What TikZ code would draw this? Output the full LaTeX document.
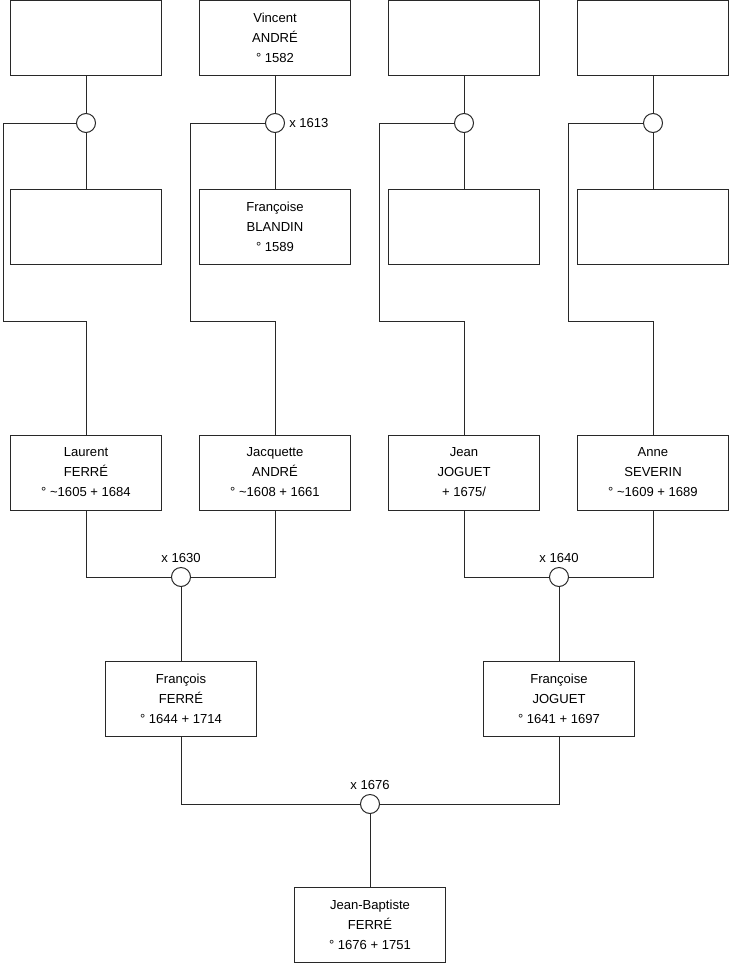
\documentclass[tikz,border=0pt]{standalone}
\usepackage{fontspec}
\setmainfont{Liberation Sans}
\usetikzlibrary{positioning}
\definecolor{linegray}{RGB}{40, 40, 40}

\begin{document}
\begin{tikzpicture}[x=0.75pt, y=-0.75pt,
    every node/.style={font=\fontsize{9.8}{15}\selectfont},
    person/.style={draw=linegray, line width=0.75pt, fill=white,
      minimum width=113.25pt, minimum height=56.25pt, align=center, inner sep=0pt},
    union/.style={circle, draw=linegray, line width=0.75pt, fill=white,
      minimum size=14.25pt, inner sep=0pt},
    wedding/.style={inner sep=1pt},
    link/.style={draw=linegray, line width=0.75pt}]
  \useasboundingbox (0,0) rectangle (740,975);

  %% GREAT-GRANDPARENTS
  \node[person] (p1) at (86,37.5) {};
  \node[person] (p2) at (275,37.5) {Vincent\\ANDRÉ\\° 1582};
  \node[person] (p3) at (464,37.5) {};
  \node[person] (p4) at (653,37.5) {};

  \node[union] (u1) at (86,123) {};
  \node[union] (u2) at (275,123) {};
  \node[union] (u3) at (464,123) {};
  \node[union] (u4) at (653,123) {};
  \node[wedding, right=2pt of u2] (w2) {x 1613};

  \node[person] (m1) at (86,227) {};
  \node[person] (m2) at (275,227) {Françoise\\BLANDIN\\° 1589};
  \node[person] (m3) at (464,227) {};
  \node[person] (m4) at (653,227) {};

  %% GRANDPARENTS
  \node[person] (laurent) at (86,472.5) {Laurent\\FERRÉ\\° \textasciitilde1605 + 1684};
  \node[person] (jacquette) at (275,472.5) {Jacquette\\ANDRÉ\\° \textasciitilde1608 + 1661};
  \node[person] (jean) at (464,472.5) {Jean\\JOGUET\\+ 1675/};
  \node[person] (anne) at (653,472.5) {Anne\\SEVERIN\\° \textasciitilde1609 + 1689};

  \node[union] (u5) at (181,577) {};
  \node[union] (u6) at (559,577) {};
  \node[wedding, above=2pt of u5] (w5) {x 1630};
  \node[wedding, above=2pt of u6] (w6) {x 1640};

  %% PARENTS
  \node[person] (francois) at (181,699) {François\\FERRÉ\\° 1644 + 1714};
  \node[person] (francoise) at (559,699) {Françoise\\JOGUET\\° 1641 + 1697};

  \node[union] (u7) at (370,804) {};
  \node[wedding, above=2pt of u7] (w7) {x 1676};

  \node[person] (jeanbaptiste) at (370,925) {Jean-Baptiste\\FERRÉ\\° 1676 + 1751};

  %% links
  \draw[link] (p1) -- (u1) -- (m1);
  \draw[link] (p2) -- (u2) -- (m2);
  \draw[link] (p3) -- (u3) -- (m3);
  \draw[link] (p4) -- (u4) -- (m4);
  \draw[link] (u1) -| (3,321) -| (laurent);
  \draw[link] (u2) -| (190,321) -| (jacquette);
  \draw[link] (u3) -| (379,321) -| (jean);
  \draw[link] (u4) -| (568,321) -| (anne);

  \draw[link] (laurent) |- (u5) -| (jacquette);
  \draw[link] (jean) |- (u6) -| (anne);
  \draw[link] (u5) -- (francois);
  \draw[link] (u6) -- (francoise);

  \draw[link] (francois) |- (u7) -| (francoise);
  \draw[link] (u7) -- (jeanbaptiste);
\end{tikzpicture}
\end{document}
